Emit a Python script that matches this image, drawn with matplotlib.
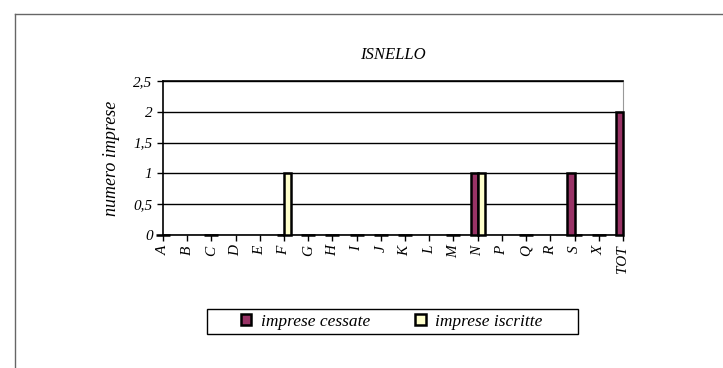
import numpy as np
import matplotlib
matplotlib.use('Agg')
import matplotlib.pyplot as plt
from matplotlib.lines import Line2D
from matplotlib.patches import Rectangle

plt.rcParams['font.family'] = ['Liberation Serif', 'DejaVu Serif']
plt.rcParams['font.style'] = 'italic'

categorie = ['A', 'B', 'C', 'D', 'E', 'F', 'G', 'H', 'I', 'J', 'K', 'L', 'M',
             'N', 'P', 'Q', 'R', 'S', 'X', 'TOT']
nan = np.nan
cessate = [0, nan, 0, nan, nan, 0, 0, 0, 0, 0, 0, nan, 0, 1, nan, 0, nan, 1, 0, 2]
iscritte = [0, nan, 0, nan, nan, 1, 0, 0, 0, 0, 0, nan, 0, 1, nan, 0, nan, 0, 0, nan]
y_ticks = [0, 0.5, 1, 1.5, 2, 2.5]
y_labels = ['0', '0,5', '1', '1,5', '2', '2,5']

fig = plt.figure(figsize=(7.23, 3.68), dpi=100)
ax = fig.add_axes([0.2254, 0.3614, 0.6362, 0.4185])

x = np.arange(len(categorie))
w = 0.29
ax.set_axisbelow(True)
ax.yaxis.grid(True, color='black', linewidth=1.0)
ax.bar(x - w / 2, cessate, w, color='#993366', edgecolor='black', linewidth=1.8,
       label='imprese cessate', zorder=3, clip_on=False)
ax.bar(x + w / 2, iscritte, w, color='#FFFFCC', edgecolor='black', linewidth=1.8,
       label='imprese iscritte', zorder=3, clip_on=False)

ax.set_xlim(0, len(categorie) - 1)
ax.set_ylim(0, 2.5)
ax.set_xticks(x)
ax.set_xticklabels(categorie, rotation=90, fontsize=11)
ax.set_yticks(y_ticks)
ax.set_yticklabels(y_labels, fontsize=11)
ax.tick_params(axis='both', direction='out', length=4, width=1, color='black')
for side in ['left', 'bottom', 'top']:
    ax.spines[side].set_linewidth(1.2)
ax.spines['right'].set_color('#999999')
ax.set_ylabel('numero imprese', fontsize=13, labelpad=10)
ax.set_title('ISNELLO', fontsize=12, pad=16)

fig.legend(loc='center', bbox_to_anchor=(0.542, 1 - 321.5 / 368), ncol=2, fontsize=12.5,
           frameon=False, handlelength=0.6, handleheight=0.6, handletextpad=0.55,
           columnspacing=2.6)
fig.add_artist(Rectangle((207 / 723, 1 - 334 / 368), 371 / 723, 25 / 368,
                         transform=fig.transFigure, fill=False,
                         edgecolor='black', lw=1))

# outer frame (left and top)
fig.add_artist(Line2D([15 / 723, 15 / 723], [0, 1 - 14 / 368], color='#666666', lw=1))
fig.add_artist(Line2D([15 / 723, 1], [1 - 14 / 368, 1 - 14 / 368], color='#666666', lw=1))

fig.savefig('out.png', dpi=100)
